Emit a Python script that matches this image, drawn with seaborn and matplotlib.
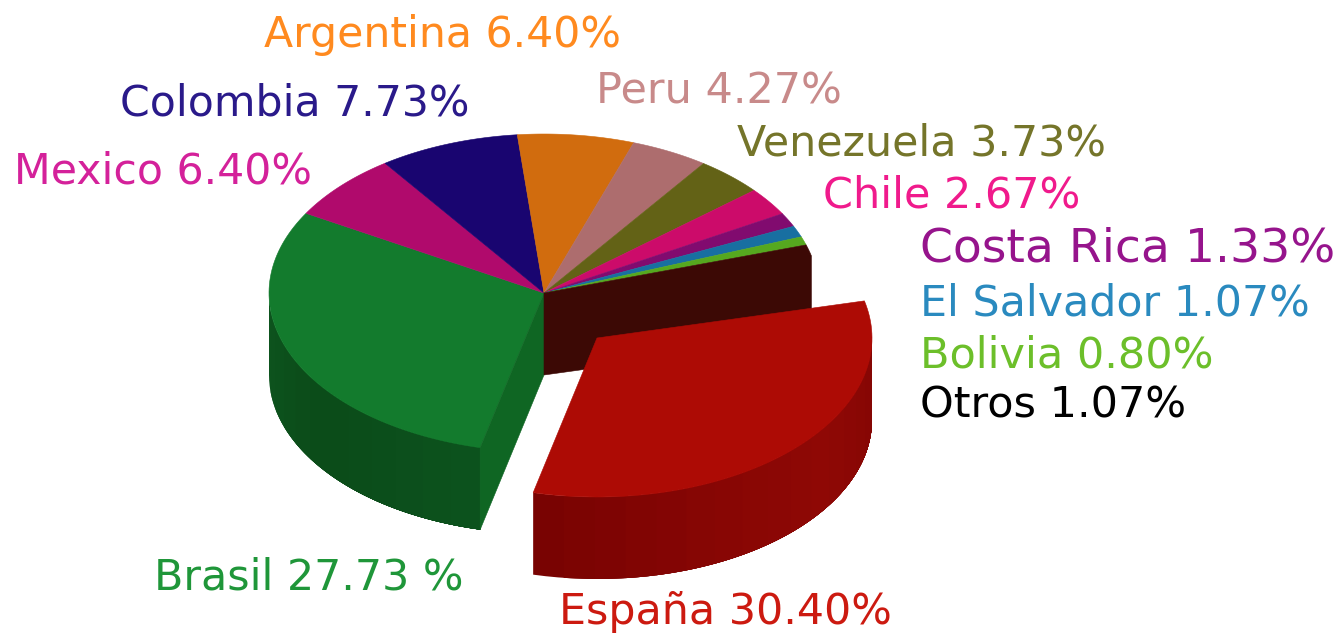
import numpy as np
import pandas as pd
import matplotlib
matplotlib.use("Agg")
import matplotlib.pyplot as plt
import seaborn as sns

countries = ['España', 'Brasil', 'Mexico', 'Colombia', 'Argentina', 'Peru',
             'Venezuela', 'Chile', 'Costa Rica', 'El Salvador', 'Bolivia', 'Otros']
shares = [30.40, 27.73, 6.40, 7.73, 6.40, 4.27, 3.73, 2.67, 1.33, 1.07, 0.80, 1.07]
labels = ['España 30.40%', 'Brasil 27.73 %', 'Mexico 6.40%', 'Colombia 7.73%',
          'Argentina 6.40%', 'Peru 4.27%', 'Venezuela 3.73%', 'Chile 2.67%',
          'Costa Rica 1.33%', 'El Salvador 1.07%', 'Bolivia 0.80%', 'Otros 1.07%']

top_colors = ['#ad0b05', '#137b2d', '#b00a6c', '#190570', '#d16c0e', '#ad6d6e',
              '#636216', '#cc0b6a', '#810b6f', '#186fa1', '#56a81f', '#3c0905']
text_colors = ['#cc1a10', '#1f9639', '#d4219a', '#2a1a8a', '#ff8a1f', '#c88a8a',
               '#75752a', '#f01a8c', '#96148c', '#2a8abf', '#6cbf2a', '#000000']

# label layout: left x, baseline y, font size
label_x = [559, 154, 14, 120, 264, 596, 737, 823, 920, 920, 920, 920]
label_y = [624, 589, 184, 115, 47, 104, 156, 207, 262, 315, 367, 418]
label_size = [30.8, 30.8, 30.7, 30.7, 30.7, 31, 30.8, 31, 34, 30.8, 31, 31]

df = pd.DataFrame({'country': countries, 'share': shares, 'color': top_colors})
df['sweep'] = df['share'] / df['share'].sum() * 360
df['start'] = 13.5 - df['sweep'].cumsum().shift(fill_value=0)
df['end'] = df['start'] - df['sweep']

RX, RY, DEPTH = 275, 159, 82
CX, CY = 544, 293
EX_CX, EX_CY = 597, 338

sns.set_theme(style="white")
plt.rcParams['font.family'] = ['DejaVu Sans']
fig, ax = plt.subplots(figsize=(13.41, 6.33), dpi=100)
ax.set_position([0, 0, 1, 1])
ax.set_xlim(0, 1341)
ax.set_ylim(633, 0)
ax.axis('off')


def arc(cx, cy, a0, a1, n=80):
    t = np.radians(np.linspace(a0, a1, n))
    return cx + RX * np.cos(t), cy - RY * np.sin(t)


def poly(x, y, color, z=1, lw=0.4):
    ax.fill(x, y, facecolor=color, edgecolor=color, linewidth=lw, zorder=z)


def top_face(cx, cy, a0, a1, color, z=1):
    x, y = arc(cx, cy, a0, a1)
    poly(np.r_[cx, x], np.r_[cy, y], color, z)


def outer_wall(cx, cy, a0, a1, shades, z=1):
    # banded outer wall, strips overlap so no seams show
    edges = np.linspace(a0, a1, len(shades) + 1)
    for i, c in enumerate(shades):
        x, y = arc(cx, cy, edges[i], edges[-1], 40)
        poly(np.r_[x, x[::-1]], np.r_[y, y[::-1] + DEPTH], c, z, 0)


def cut_wall(cx, cy, angle, color, z=1):
    x, y = arc(cx, cy, angle, angle, 1)
    poly([cx, x[0], x[0], cx], [cy, y[0], y[0] + DEPTH, cy + DEPTH], color, z)


spain = df.iloc[0]
brasil = df.iloc[1]
otros = df.iloc[-1]

# the pie without the pulled-out piece
green_wall = sns.blend_palette(['#0d541e', '#0b4b19', '#0c521d'], 12)
outer_wall(CX, CY, 180, 360 + brasil['start'], green_wall)
for _, row in df.iloc[1:-1].iterrows():
    top_face(CX, CY, row['start'], row['end'], row['color'], 2)
cut_wall(CX, CY, brasil['start'], '#0f6623', 3)

# Otros: top, outer wall and cut face read as one dark block
ox, oy = arc(CX, CY, spain['start'], spain['start'] + otros['sweep'])
poly(np.r_[CX, ox[-1::-1], ox[0], CX],
     np.r_[CY, oy[-1::-1], oy[0] + DEPTH, CY + DEPTH], otros['color'], 3)

# pulled-out piece
red_wall = sns.blend_palette(['#790302', '#860604', '#8f0805', '#850604'], 16)
outer_wall(EX_CX, EX_CY, spain['end'], 0, red_wall, 4)
top_face(EX_CX, EX_CY, spain['start'], spain['end'], spain['color'], 5)

for i, name in enumerate(labels):
    ax.text(label_x[i], label_y[i], name, color=text_colors[i],
            fontsize=label_size[i], ha='left', va='baseline', zorder=6)

fig.savefig('out.png', dpi=100, facecolor='white')
